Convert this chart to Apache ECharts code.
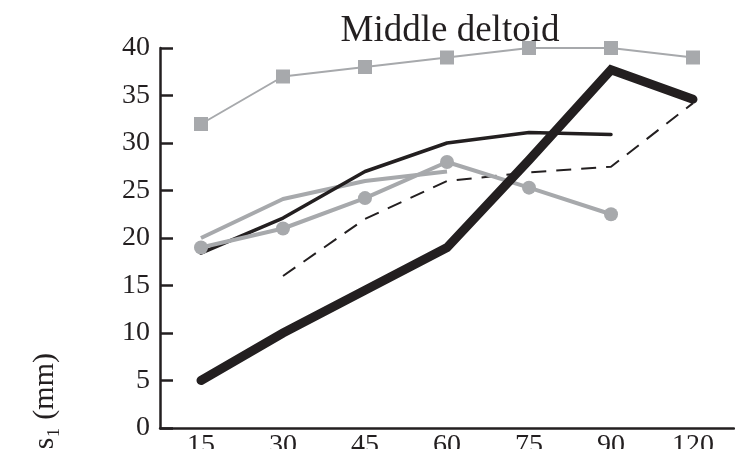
<!DOCTYPE html>
<html>
<head>
<meta charset="utf-8">
<script src="https://cdn.jsdelivr.net/npm/echarts@6/dist/echarts.min.js"></script>
<style>
  html, body { margin: 0; padding: 0; background: #fff; }
  #chart { width: 735px; height: 449px; }
</style>
</head>
<body>
<div id="chart"></div>
<script>
// 横轴分类
const categories = ['15', '30', '45', '60', '75', '90', '120']
// 各条曲线的数据（null 表示没有点）
const graySquares = [32, 37, 38, 39, 40, 40, 39]
const thickBlack = [5, 10, 14.5, 19, 28.2, 37.7, 34.6]
const thinBlack = [18.4, 22.1, 27, 30, 31.1, 30.9, null]
const dashedBlack = [null, 16, 22, 26, 26.9, 27.5, 34.2]
const grayPlain = [20, 24.1, 26, 27, null, null, null]
const grayCircles = [19, 21, 24.2, 28, 25.3, 22.5, null]

const gray = '#a7a9ac'
const black = '#231f20'
const font = 'Liberation Serif'

let chart = echarts.init(document.getElementById('chart'))

let option = {
    animation: false,
    title: {
        text: 'Middle deltoid',
        left: 445,
        top: 8,
        textAlign: 'center',
        textStyle: {
            fontFamily: font,
            fontSize: 37,
            fontWeight: 'normal',
            color: black
        }
    },
    graphic: [{
        type: 'text',
        x: 45,
        y: 353,
        rotation: Math.PI / 2,
        style: {
            text: 'Thickness\u2081 (mm)',
            fill: black,
            fontFamily: font,
            fontSize: 30,
            textAlign: 'right',
            textVerticalAlign: 'middle'
        }
    }],
    grid: {
        left: 160,
        right: 1,
        top: 48,
        bottom: 21,
        containLabel: false,
        outerBoundsMode: 'none'
    },
    xAxis: {
        type: 'category',
        data: categories,
        boundaryGap: true,
        axisLine: { lineStyle: { color: black, width: 2.5 } },
        axisTick: { inside: true, alignWithLabel: true, length: 9, lineStyle: { color: black, width: 2 } },
        axisLabel: { color: black, fontFamily: font, fontSize: 28, margin: 4 },
        splitLine: { show: false }
    },
    yAxis: {
        type: 'value',
        min: 0,
        max: 40,
        interval: 5,
        axisLine: { show: true, lineStyle: { color: black, width: 2.5 } },
        axisTick: { show: true, inside: true, length: 13, lineStyle: { color: black, width: 2.5 } },
        axisLabel: { color: black, fontFamily: font, fontSize: 28, margin: 10 },
        splitLine: { show: false }
    },
    series: [
        {
            type: 'line',
            data: graySquares,
            symbol: 'rect',
            symbolSize: 14,
            itemStyle: { color: gray },
            lineStyle: { color: gray, width: 2 }
        },
        {
            type: 'line',
            data: grayPlain,
            showSymbol: false,
            lineStyle: { color: gray, width: 4 }
        },
        {
            type: 'line',
            data: thinBlack,
            showSymbol: false,
            lineStyle: { color: black, width: 3.5, cap: 'round' }
        },
        {
            type: 'line',
            data: dashedBlack,
            showSymbol: false,
            lineStyle: { color: black, width: 2, type: [15, 10] }
        },
        {
            type: 'line',
            data: grayCircles,
            symbol: 'circle',
            symbolSize: 14,
            itemStyle: { color: gray },
            lineStyle: { color: gray, width: 4 }
        },
        {
            type: 'line',
            data: thickBlack,
            showSymbol: false,
            lineStyle: { color: black, width: 9, cap: 'round', join: 'miter' }
        }
    ]
}

chart.setOption(option)
</script>
</body>
</html>
